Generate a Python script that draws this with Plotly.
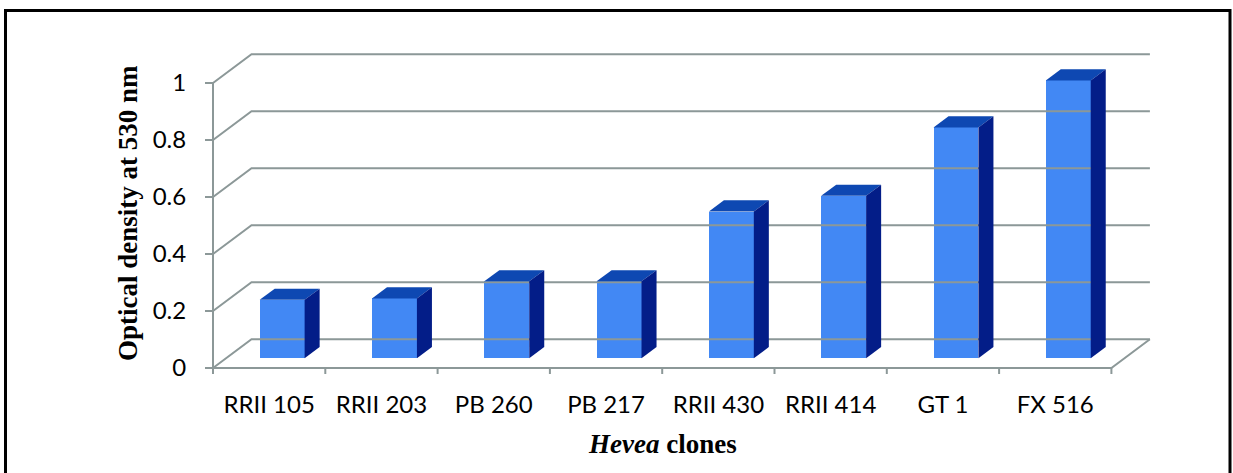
import plotly.graph_objects as go

# Optical density at 530 nm for each Hevea clone
clones = ["RRII 105", "RRII 203", "PB 260", "PB 217", "RRII 430", "RRII 414", "GT 1", "FX 516"]
od_530 = [0.205, 0.21, 0.27, 0.27, 0.515, 0.57, 0.81, 0.975]
y_ticks = [0, 0.2, 0.4, 0.6, 0.8, 1.0]
y_tick_text = ["0", "0.2", "0.4", "0.6", "0.8", "1"]

# oblique 3-D projection: full depth of the chart box in data units
DX, DY = 0.3428, 0.1007
BAR_W = 0.40           # front-face width (category units)
BAR_FRONT = 0.338      # depth fraction of the bar front face
BAR_DEPTH = 0.39       # depth fraction occupied by a bar

GRID = "#8c9898"
FRONT = "#4288f4"
TOP = "#0e48b2"
SIDE = "#031d88"

n = len(clones)
fig = go.Figure()


def seg(xs, ys, color=GRID, width=2):
    fig.add_trace(go.Scatter(x=xs, y=ys, mode="lines", hoverinfo="skip",
                             line=dict(color=color, width=width), showlegend=False))


# back wall gridlines and left-wall diagonals
for v in y_ticks:
    seg([0, DX, n + DX], [v, v + DY, v + DY])
# floor: front edge, right edge
seg([0, n, n + DX], [0, 0, DY])
# front value axis
seg([0, 0], [0, 1.0])
# category tick marks
for i in range(n + 1):
    seg([i, i], [0, -0.021])

# bars: front face as a real bar, top and side as projected faces
dx0, dy0 = BAR_FRONT * DX, BAR_FRONT * DY
ddx, ddy = BAR_DEPTH * DX, BAR_DEPTH * DY
fig.add_trace(go.Bar(
    x=[i + 0.5 + dx0 for i in range(n)], y=od_530, base=[dy0] * n,
    width=BAR_W, marker=dict(color=FRONT, line=dict(width=0)),
    showlegend=False, hovertext=clones,
))
for i, v in enumerate(od_530):
    xl = i + 0.5 - BAR_W / 2 + dx0
    xr = xl + BAR_W
    yb = dy0
    yt = dy0 + v
    fig.add_trace(go.Scatter(
        x=[xl, xr, xr + ddx, xl + ddx, xl], y=[yt, yt, yt + ddy, yt + ddy, yt],
        fill="toself", fillcolor=TOP, mode="lines", line=dict(width=0, color=TOP),
        hoverinfo="skip", showlegend=False))
    fig.add_trace(go.Scatter(
        x=[xr, xr + ddx, xr + ddx, xr, xr], y=[yb, yb + ddy, yt + ddy, yt, yb],
        fill="toself", fillcolor=SIDE, mode="lines", line=dict(width=0, color=SIDE),
        hoverinfo="skip", showlegend=False))

L, R, T, B = 202, 68, 48, 97
W, H = 1233 - L - R, 473 - T - B
x_range = [-(213 - L) / 112.3, (1233 - R - 213) / 112.3]
y_range = [-(376 - 368) / 285.0, (368 - T) / 285.0]


def px(x):
    return (x - L) / W


def py(y):
    return (473 - B - y) / H


fig.update_layout(
    width=1233, height=473,
    margin=dict(l=L, r=R, t=T, b=B, pad=0),
    paper_bgcolor="white", plot_bgcolor="white",
    bargap=0,
    xaxis=dict(range=x_range, showgrid=False, zeroline=False, showline=False,
               tickvals=[i + 0.5 for i in range(n)], ticktext=clones,
               ticks="", ticklabelstandoff=12,
               tickfont=dict(family="Lato", size=24, color="black")),
    yaxis=dict(range=y_range, showgrid=False, zeroline=False, showline=False,
               anchor="free", position=px(213),
               tickvals=y_ticks, ticktext=y_tick_text,
               ticks="outside", ticklen=8, tickwidth=2, tickcolor=GRID,
               ticklabelstandoff=14,
               tickfont=dict(family="Lato", size=24, color="black")),
    annotations=[
        dict(text="<b>Optical density at 530 nm</b>", textangle=-90,
             xref="paper", yref="paper", x=px(128), y=py(213),
             xanchor="center", yanchor="middle", showarrow=False,
             font=dict(family="Liberation Serif", size=27, color="black")),
        dict(text="<b><i>Hevea</i> clones</b>",
             xref="paper", yref="paper", x=px(662), y=py(444),
             xanchor="center", yanchor="middle", showarrow=False,
             font=dict(family="Liberation Serif", size=27, color="black")),
    ],
    shapes=[
        dict(type="rect", xref="paper", yref="paper",
             x0=px(5.5), x1=px(1230), y0=py(490), y1=py(10.5),
             line=dict(color="black", width=3), fillcolor="rgba(0,0,0,0)"),
    ],
)

fig.write_html("out.html")
